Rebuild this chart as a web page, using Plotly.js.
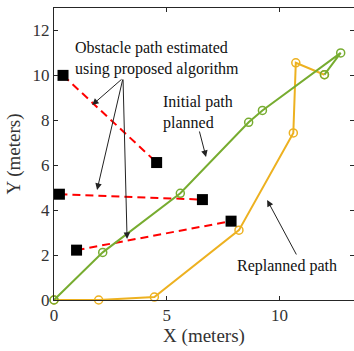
<!DOCTYPE html>
<html>
<head>
<meta charset="utf-8">
<script src="https://cdn.plot.ly/plotly-3.0.1.min.js"></script>
<style>html,body{margin:0;padding:0;background:#fff;}#chart{width:354px;height:351px;}</style>
</head>
<body>
<div id="chart"></div>
<script>
// Initial planned path (green)
const initialX = [0, 2.16, 5.6, 8.63, 9.24, 12.71, 11.99];
const initialY = [0, 2.12, 4.75, 7.91, 8.44, 11.0, 10.03];
// Replanned path (orange)
const replanX = [0, 1.98, 4.45, 8.2, 10.61, 10.72, 11.99];
const replanY = [0, 0, 0.13, 3.11, 7.44, 10.56, 10.03];
// Obstacle estimated paths (start, end)
const obs1X = [0.4, 4.55];
const obs1Y = [10.0, 6.12];
const obs2X = [0.24, 6.58];
const obs2Y = [4.71, 4.47];
const obs3X = [1.0, 7.85];
const obs3Y = [2.22, 3.51];
// Axis ticks
const xTicks = [0, 5, 10];
const yTicks = [0, 2, 4, 6, 8, 10, 12];

const GREEN = '#77AC30', ORANGE = '#EDB120', RED = '#FF0000';
const FONT = "'Liberation Serif', 'Times New Roman', serif";

const traces = [];
[[obs1X, obs1Y], [obs2X, obs2Y], [obs3X, obs3Y]].forEach(([xs, ys]) => {
  traces.push({x: xs, y: ys, mode: 'lines', type: 'scatter',
    line: {color: RED, width: 2, dash: '8px,5px'}, hoverinfo: 'skip'});
});
traces.push({x: replanX, y: replanY, mode: 'lines+markers', type: 'scatter', cliponaxis: false,
  line: {color: ORANGE, width: 2},
  marker: {symbol: 'circle-open', size: 8, color: ORANGE, line: {width: 1.5, color: ORANGE}}});
traces.push({x: initialX, y: initialY, mode: 'lines+markers', type: 'scatter', cliponaxis: false,
  line: {color: GREEN, width: 2},
  marker: {symbol: 'circle-open', size: 8, color: GREEN, line: {width: 1.5, color: GREEN}}});
[[obs1X, obs1Y], [obs2X, obs2Y], [obs3X, obs3Y]].forEach(([xs, ys]) => {
  traces.push({x: xs, y: ys, mode: 'markers', type: 'scatter', cliponaxis: false,
    marker: {symbol: 'square', size: 11, color: '#000'}, hoverinfo: 'skip'});
});

function arrow(tx, ty, hx, hy) {
  return {x: hx, y: hy, ax: tx, ay: ty, xref: 'x', yref: 'y', axref: 'x', ayref: 'y',
    text: '', showarrow: true, arrowhead: 2, arrowsize: 1.3, arrowwidth: 1, arrowcolor: '#222', standoff: 0};
}

const annotations = [
  {x: 0.84, y: 10.73, xref: 'x', yref: 'y', xanchor: 'left', yanchor: 'middle', align: 'left',
   text: 'Obstacle path estimated<br>using proposed algorithm', showarrow: false,
   font: {family: FONT, size: 16, color: '#111'}},
  {x: 4.74, y: 8.37, xref: 'x', yref: 'y', xanchor: 'left', yanchor: 'middle', align: 'left',
   text: 'Initial path<br>planned', showarrow: false,
   font: {family: FONT, size: 16, color: '#111'}},
  {x: 10.33, y: 1.51, xref: 'x', yref: 'y', xanchor: 'center', yanchor: 'middle',
   text: 'Replanned path', showarrow: false,
   font: {family: FONT, size: 16, color: '#111'}},
  arrow(3.06, 9.88, 1.69, 8.68),
  arrow(3.06, 9.88, 1.91, 4.90),
  arrow(3.06, 9.88, 3.24, 2.72),
  arrow(6.43, 7.57, 6.74, 6.37),
  arrow(10.78, 1.96, 9.45, 4.45)
];

const axisCommon = {
  showgrid: false, zeroline: false, showline: true, linecolor: '#262626', linewidth: 1,
  mirror: 'ticks', ticks: 'inside', ticklen: 4, tickcolor: '#262626',
  tickfont: {family: FONT, size: 17, color: '#333'}
};

const layout = {
  width: 354, height: 351,
  margin: {l: 54, r: 0, t: 8, b: 51},
  paper_bgcolor: '#fff', plot_bgcolor: '#fff',
  showlegend: false,
  font: {family: FONT},
  xaxis: Object.assign({}, axisCommon, {range: [0, 13.3], tickvals: xTicks, ticktext: xTicks.map(String),
    title: {text: 'X (meters)', font: {family: FONT, size: 19, color: '#333'}, standoff: 4}}),
  yaxis: Object.assign({}, axisCommon, {range: [0, 13], tickvals: yTicks, ticktext: yTicks.map(String),
    title: {text: 'Y (meters)', font: {family: FONT, size: 19, color: '#333'}, standoff: 6}}),
  annotations: annotations
};

Plotly.newPlot('chart', traces, layout, {displayModeBar: false, staticPlot: true});
</script>
</body>
</html>
